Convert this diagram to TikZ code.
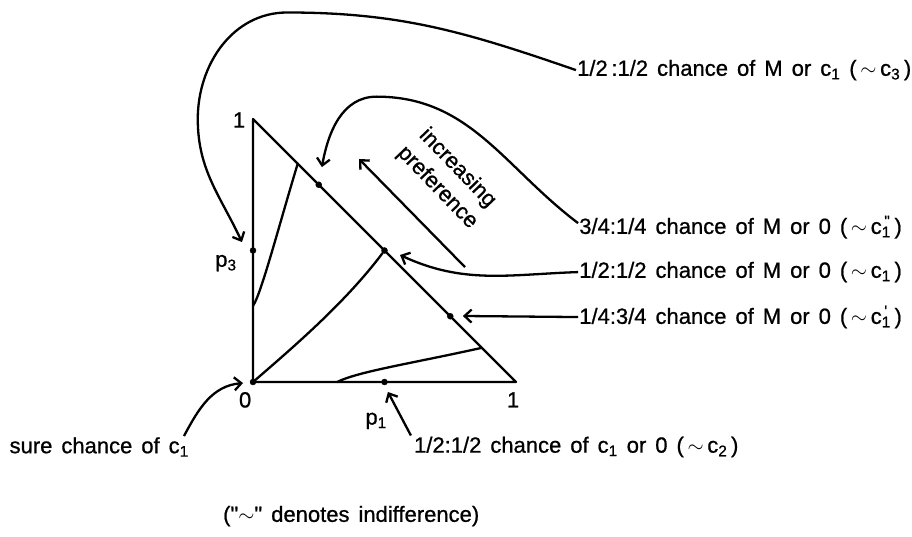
\documentclass[tikz,border=0pt]{standalone}
\usepackage{fontspec}
\setmainfont{Liberation Sans}
\newfontfamily\letters{Liberation Sans}[FakeBold=0.8]
\usetikzlibrary{arrows.meta,positioning}

\newcommand{\lettering}{\letters\fontsize{22}{28}\selectfont\spaceskip=9pt plus 2pt minus 2pt\relax}
\newcommand{\lsub}[1]{\textsubscript{#1}}
\newcommand{\indiff}[1]{(\,$\sim$\,#1\,)}

\tikzset{
  pt/.style={
    inner sep = 0pt,
    minimum size = 6pt,
    shape = circle,
    draw,
    fill
  },
  side/.style={
    line width=2.3pt,
    line join=round,
  },
  icurve/.style={
    line width=2.3pt,
    line cap=round,
  },
  pointer/.style={
    line width=2.3pt,
    -{Straight Barb[length=7pt,width=13pt]},
  },
  lbl/.style={
    anchor=west,
    inner sep=1pt,
  },
  every picture/.style = {
    font=\lettering
  },
}

\begin{document}
\begin{tikzpicture}[x=263pt,y=263pt]
  \useasboundingbox (-0.962,-0.5856) rectangle (2.5057,1.4525);
  % the triangle of lotteries
  \coordinate (o) at (0,0);
  \coordinate (e1) at (1,0);
  \coordinate (e3) at (0,1);
  \draw[side] (e3) -- (o) -- (e1) -- cycle;
  \foreach \k in {1,2,3}{
    \node[pt] (h\k) at (\k/4,1-\k/4) {};
  }
  \node[pt] (m3) at (0,0.5) {};
  \node[pt] (m1) at (0.5,0) {};
  \node[pt] (odot) at (o) {};
  \node (top) at (-0.053,0.996) {1};
  \node (zero) at (-0.030,-0.068) {0};
  \node (one) at (0.989,-0.068) {1};
  \node (p1) at (0.468,-0.148) {p\lsub{1}};
  \node (p3) at (-0.103,0.452) {p\lsub{3}};

  % indifference curves
  \draw[icurve] (0,0.29) .. controls (0.03,0.33) and (0.1,0.6) .. (0.17,0.83);
  \draw[icurve] (o) .. controls (0.15,0.13) and (0.35,0.3) .. (h2);
  \draw[icurve] (0.32,0) .. controls (0.4,0.04) and (0.6,0.07) .. (0.87,0.13);

  % the lotteries
  \node[lbl] (mc) at (1.228,1.186) {1/2\,:1/2 chance of M or c\lsub{1} \indiff{c\lsub{3}}};
  \node[lbl] (mo3) at (1.236,0.589) {3/4:1/4 chance of M or 0 \indiff{c\rlap{\textsuperscript{\,\textquotedbl}}\lsub{1}}};
  \node[lbl] (mo2) at (1.236,0.418) {1/2:1/2 chance of M or 0 \indiff{c\lsub{1}}};
  \node[lbl] (mo1) at (1.236,0.247) {1/4:3/4 chance of M or 0 \indiff{c\rlap{\textsuperscript{\,\textquotesingle}}\lsub{1}}};
  \node[lbl] (co) at (0.608,-0.247) {1/2:1/2 chance of c\lsub{1} or 0 \indiff{c\lsub{2}}};
  \node[lbl] (sure) at (-0.93,-0.247) {sure chance of c\lsub{1}};
  \node[lbl] (note) at (-0.118,-0.51) {("$\sim$" denotes indifference)};

  \coordinate (tipA) at (-0.042,0.532);
  \coordinate (tipB) at (0.262,0.817);
  \coordinate (tipC) at (0.559,0.483);
  \coordinate (tipD) at (0.798,0.251);
  \coordinate (tipE) at (0.513,-0.038);
  \coordinate (tipF) at (-0.038,-0.004);
  \draw[pointer] (mc.west) to[out=161,in=0] (0.13,1.405)
    to[out=180,in=90] (-0.21,1.0) to[out=-90,in=115] (tipA);
  \draw[pointer] ([yshift=4pt]mo3.west) to[out=143,in=0] (0.47,1.085)
    to[out=180,in=80] (tipB);
  \draw[pointer] (mo2.west) to[out=182,in=-25] (tipC);
  \draw[pointer] (mo1.west) -- (tipD);
  \draw[pointer] ([xshift=-2pt]co.north west) -- (tipE);
  \draw[pointer] ([xshift=-6pt]sure.north east) to[out=62,in=185] (tipF);

  % direction of preference
  \coordinate (pref tail) at (0.806,0.437);
  \coordinate (pref head) at (0.403,0.848);
  \draw[pointer] (pref tail) -- (pref head);
  \node[rotate=-46, align=center] (pref) at (0.739,0.776) {increasing\\preference};
\end{tikzpicture}
\end{document}
